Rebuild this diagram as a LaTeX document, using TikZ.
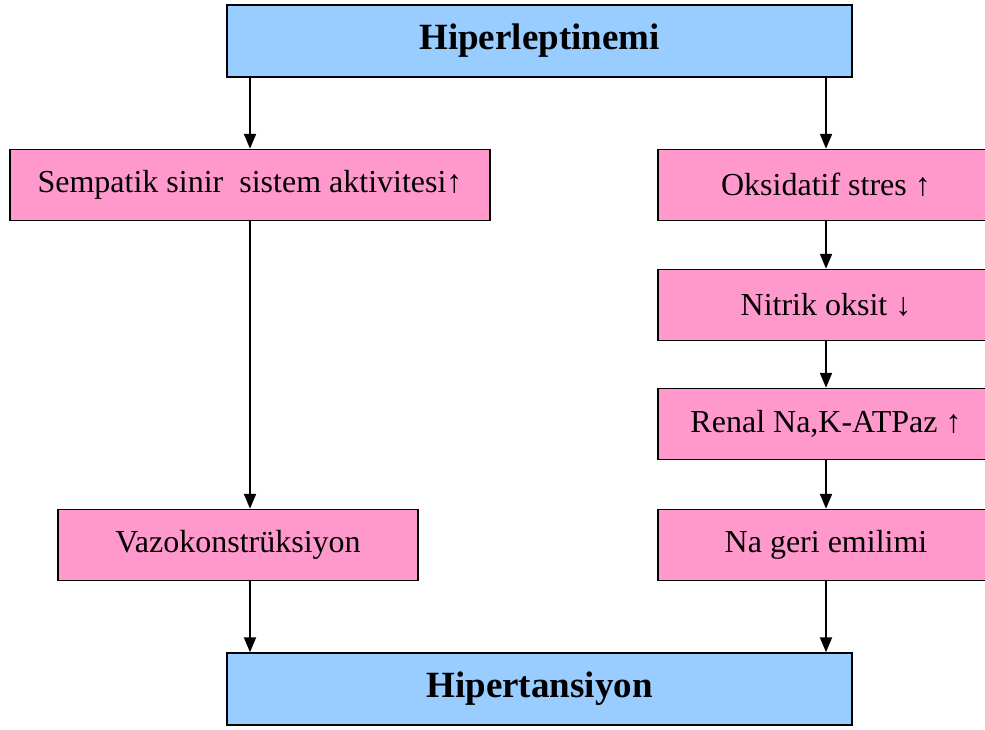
\documentclass[tikz,border=0pt]{standalone}
\usepackage{fontspec}
\setmainfont{Liberation Serif}
\usetikzlibrary{arrows.meta}
\tikzset{>={Triangle[length=15pt,width=12pt]}}
\definecolor{boxblue}{HTML}{99CCFF}
\definecolor{boxpink}{HTML}{FF99CC}
\tikzstyle{mainbox}=[draw=black,line width=1.5pt,fill=boxblue,minimum width=625pt,minimum height=72pt,inner sep=0pt,font=\fontsize{37}{44}\selectfont\bfseries]
\tikzstyle{stepbox}=[draw=black,line width=1.5pt,fill=boxpink,minimum height=71pt,inner sep=0pt,font=\fontsize{32}{38}\selectfont]
\tikzstyle{flow}=[->,line width=2pt]

\begin{document}
\begin{tikzpicture}[x=1pt,y=1pt]
  \useasboundingbox (0,0) rectangle (985,-729);

  % BOXES
  \node[mainbox] (hl) at (539.5,-41) {Hiperleptinemi};
  \node[stepbox,minimum width=480pt] (ssa) at (250,-185) {Sempatik sinir\ \ sistem aktivitesi↑};
  \node[stepbox,minimum width=360pt] (vk) at (238,-545) {Vazokonstrüksiyon};
  \node[stepbox,minimum width=336pt] (os) at (826,-185) {Oksidatif stres ↑}; % right column
  \node[stepbox,minimum width=336pt] (no) at (826,-305) {Nitrik oksit ↓};
  \node[stepbox,minimum width=336pt] (rn) at (826,-424) {Renal Na,K-ATPaz ↑};
  \node[stepbox,minimum width=336pt] (na) at (826,-545) {Na geri emilimi};
  \node[mainbox] (ht) at (539.5,-689) {Hipertansiyon};

  % ARROWS
  \draw[flow] (hl.south -| ssa) -- (ssa.north);
  \draw[flow] (hl.south -| os) -- (os.north);
  \draw[flow] (ssa.south) -- (ssa |- vk.north);
  \draw[flow] (vk.south -| ssa) -- (ht.north -| ssa);
  \draw[flow] (os.south) -- (no.north);
  \draw[flow] (no.south) -- (rn.north);
  \draw[flow] (rn.south) -- (na.north);
  \draw[flow] (na.south) -- (ht.north -| na);
\end{tikzpicture}
\end{document}
